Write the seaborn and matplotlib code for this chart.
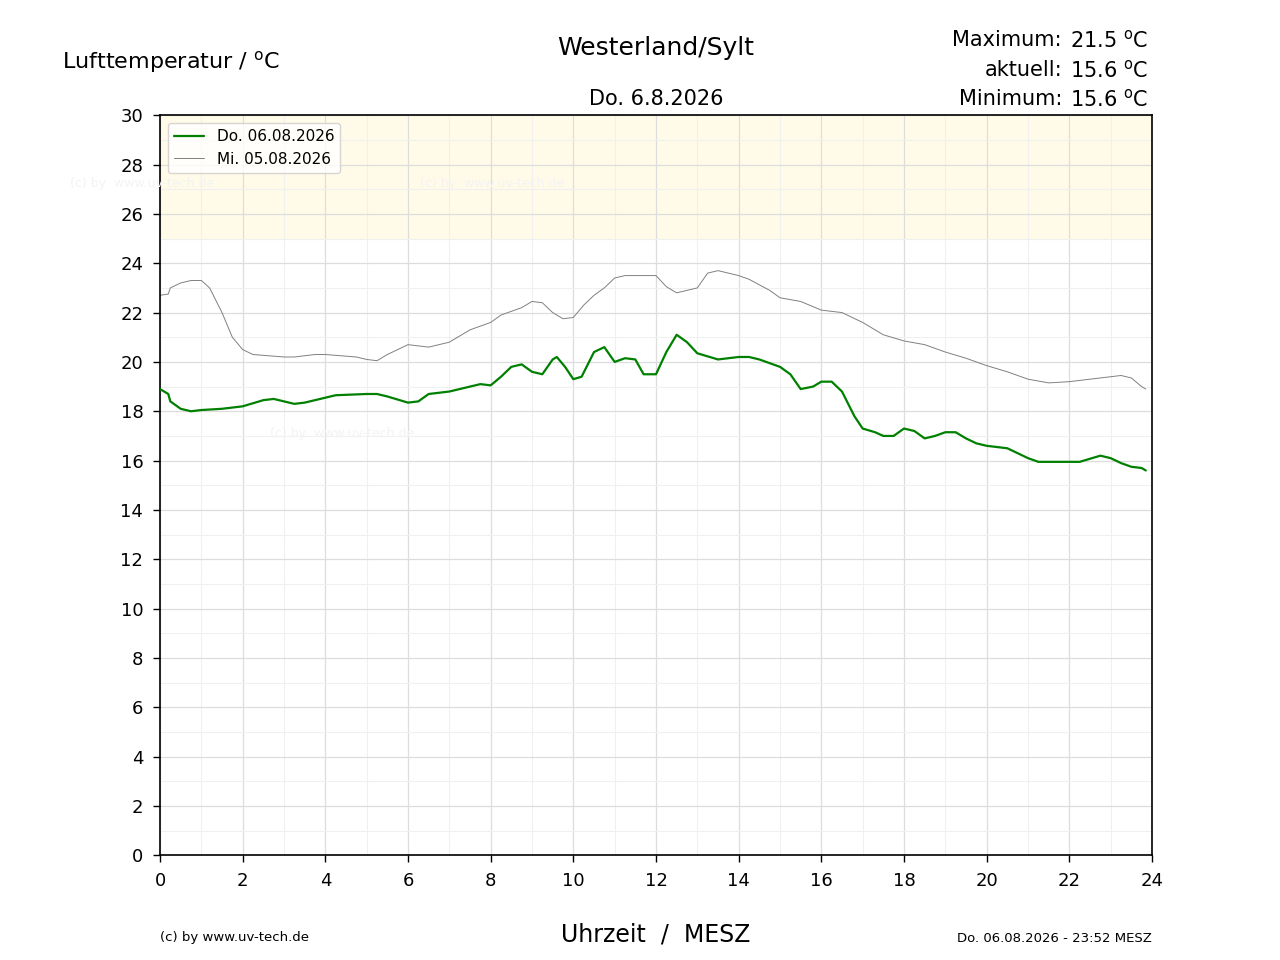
import matplotlib
matplotlib.use("Agg")
import matplotlib.pyplot as plt
import seaborn as sns
import pandas as pd

sns.set_theme(style="white", font='DejaVu Sans')
plt.rcParams['font.family'] = ['DejaVu Sans', 'sans-serif']
plt.rcParams['font.sans-serif'] = ['DejaVu Sans']
plt.rcParams['text.color'] = 'black'
plt.rcParams['xtick.color'] = 'black'
plt.rcParams['ytick.color'] = 'black'
plt.rcParams['mathtext.fontset'] = 'dejavusans'

t_today = [0,0.2,0.25,0.5,0.75,1,1.5,2,2.5,2.75,3,3.25,3.5,4,4.25,5,5.25,5.5,6,6.25,6.5,7,7.5,7.75,8,8.25,8.5,8.75,9,9.25,9.5,9.6,9.8,10,10.2,10.5,10.75,11,11.25,11.5,11.7,12,12.25,12.5,12.75,13,13.5,14,14.25,14.5,15,15.25,15.5,15.8,16,16.25,16.5,16.8,17,17.3,17.5,17.75,18,18.25,18.5,18.75,19,19.25,19.5,19.75,20,20.5,21,21.25,21.75,22.25,22.75,23,23.25,23.5,23.75,23.85]
v_today = [18.9,18.7,18.4,18.1,18.0,18.05,18.1,18.2,18.45,18.5,18.4,18.3,18.35,18.55,18.65,18.7,18.7,18.6,18.35,18.4,18.7,18.8,19.0,19.1,19.05,19.4,19.8,19.9,19.6,19.5,20.1,20.2,19.8,19.3,19.4,20.4,20.6,20.0,20.15,20.1,19.5,19.5,20.4,21.1,20.8,20.35,20.1,20.2,20.2,20.1,19.8,19.5,18.9,19.0,19.2,19.2,18.8,17.8,17.3,17.15,17.0,17.0,17.3,17.2,16.9,17.0,17.15,17.15,16.9,16.7,16.6,16.5,16.1,15.95,15.95,15.95,16.2,16.1,15.9,15.75,15.7,15.6]
t_prev = [0,0.2,0.25,0.5,0.75,1,1.2,1.5,1.75,2,2.25,3,3.25,3.75,4,4.75,5,5.25,5.5,6,6.5,7,7.5,8,8.25,8.75,9,9.25,9.5,9.75,10,10.25,10.5,10.75,11,11.25,11.75,12,12.25,12.5,12.75,13,13.25,13.5,14,14.25,14.75,15,15.5,16,16.5,17,17.5,18,18.5,19,19.5,20,20.5,21,21.5,22,22.5,23,23.25,23.5,23.75,23.85]
v_prev = [22.7,22.75,23.0,23.2,23.3,23.3,23.0,22.0,21.0,20.5,20.3,20.2,20.2,20.3,20.3,20.2,20.1,20.05,20.3,20.7,20.6,20.8,21.3,21.6,21.9,22.2,22.45,22.4,22.0,21.75,21.8,22.3,22.7,23.0,23.4,23.5,23.5,23.5,23.05,22.8,22.9,23.0,23.6,23.7,23.5,23.35,22.9,22.6,22.45,22.1,22.0,21.6,21.1,20.85,20.7,20.4,20.15,19.85,19.6,19.3,19.15,19.2,19.3,19.4,19.45,19.35,19.0,18.9]

fig = plt.figure(figsize=(12.8, 9.6), dpi=100)
ax = fig.add_axes([0.125, 0.109, 0.775, 0.771])
ax.axhspan(25, 30, color='#fffbe8', zorder=0)
sns.lineplot(x=t_today, y=v_today, ax=ax, color='green', lw=1.6, label='Do. 06.08.2026', zorder=3)
sns.lineplot(x=t_prev, y=v_prev, ax=ax, color='gray', lw=0.7, label='Mi. 05.08.2026', zorder=2)
ax.set_xlim(0, 24); ax.set_ylim(0, 30)
ax.set_xticks(range(0, 25, 2)); ax.set_yticks(range(0, 31, 2))
ax.set_xticks(range(0, 25), minor=True); ax.set_yticks(range(0, 31), minor=True)
ax.grid(which='major', color='#dddddd', lw=0.9)
ax.grid(which='minor', color='#f0f0f0', lw=0.8)
ax.set_axisbelow(True)
for s in ax.spines.values():
    s.set_color('black'); s.set_linewidth(1.2)
ax.tick_params(which='major', direction='out', length=5, width=1, labelsize=13, pad=7,
               bottom=True, left=True, color='black', labelcolor='black')
ax.tick_params(which='minor', length=0)
ax.set_xlabel(''); ax.set_ylabel('')
leg = ax.legend(loc='upper left', fontsize=11, frameon=True, edgecolor='#cccccc', fancybox=True)
leg.get_frame().set_facecolor('white')
for (x, y) in [(70, 184), (420, 184), (270, 434)]:
    fig.text(x/1280, 1-y/960, '(c) by  www.uv-tech.de', fontsize=9, color='#f3f3f3', va='center')

fig.text(62/1280, 1-62/960, 'Lufttemperatur / $^{\\mathrm{o}}$C', fontsize=16, va='center')
fig.text(656/1280, 1-48/960, 'Westerland/Sylt', fontsize=18, ha='center', va='center')
fig.text(656/1280, 1-99/960, 'Do. 6.8.2026', fontsize=15, ha='center', va='center')
for y, lab, val in [(40, 'Maximum:', '21.5'), (70, 'aktuell:', '15.6'), (99, 'Minimum:', '15.6')]:
    fig.text(1062/1280, 1-y/960, lab, fontsize=15, ha='right', va='center')
    fig.text(1070/1280, 1-y/960, val + ' $^{\\mathrm{o}}$C', fontsize=15, ha='left', va='center')
fig.text(656/1280, 1-935/960, 'Uhrzeit  /  MESZ', fontsize=17, ha='center', va='center')
fig.text(160/1280, 1-938/960, '(c) by www.uv-tech.de', fontsize=9.5, va='center')
fig.text(1152/1280, 1-938/960, 'Do. 06.08.2026 - 23:52 MESZ', fontsize=9.5, ha='right', va='center')
fig.savefig('out.png', dpi=100)
